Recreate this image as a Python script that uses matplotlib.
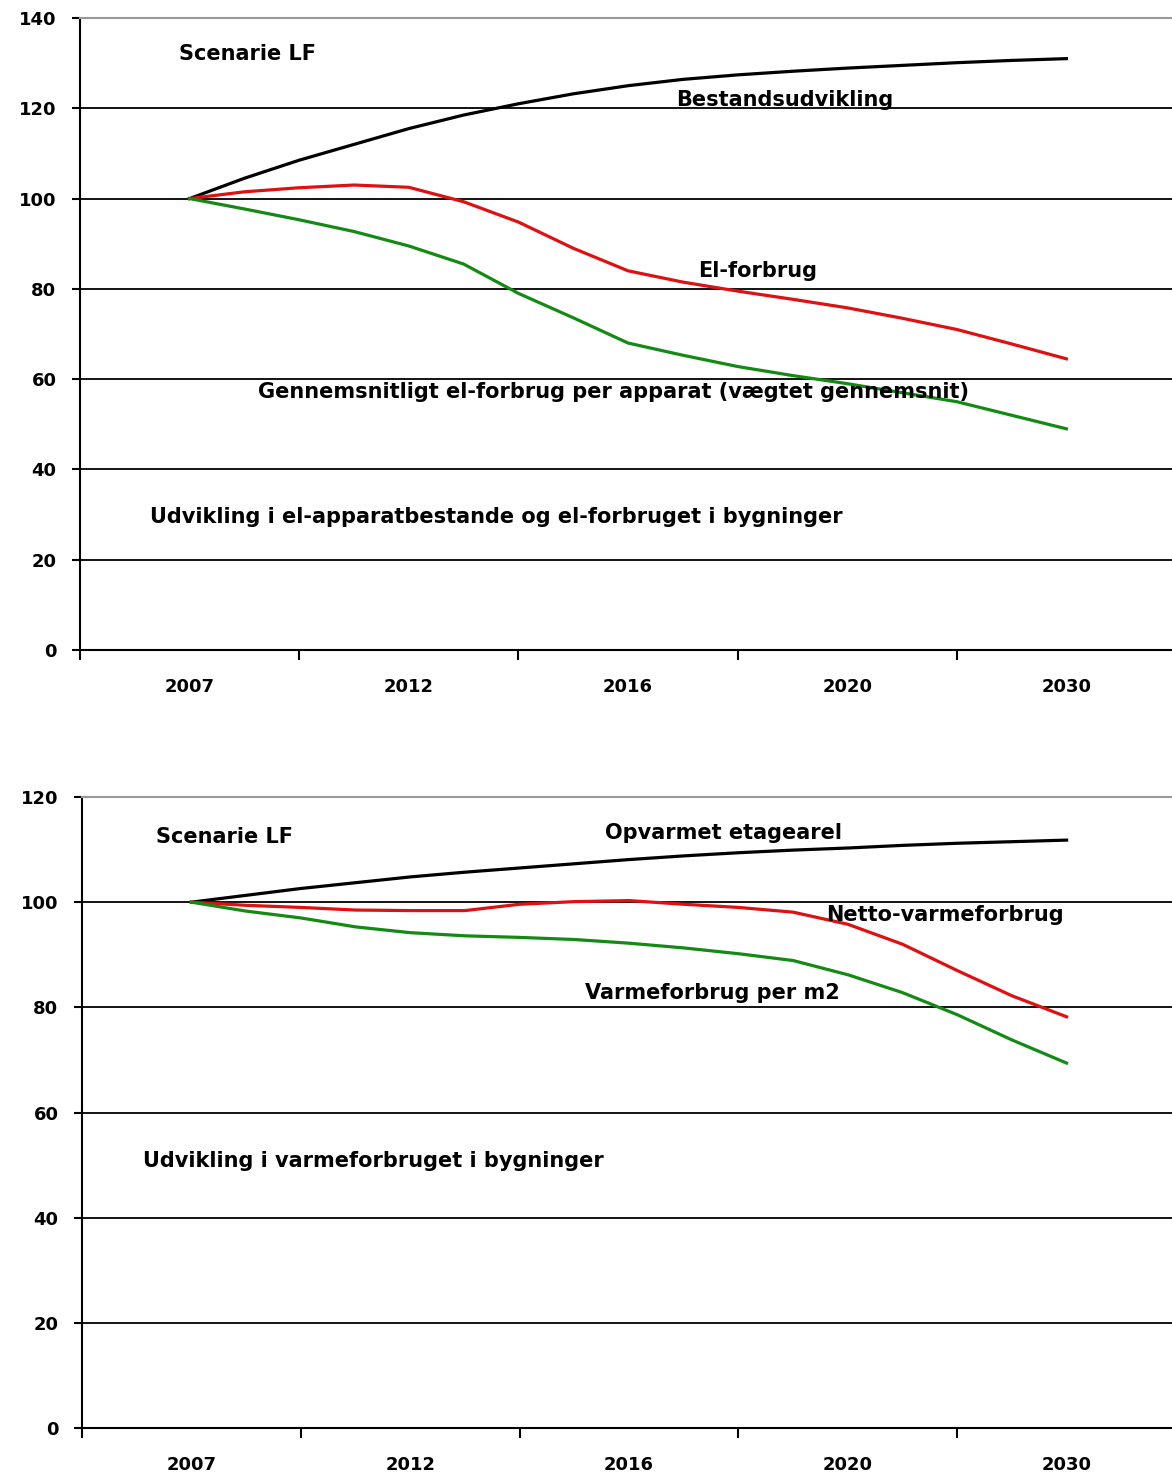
import numpy as np
import matplotlib.pyplot as plt

# x-axis categories (labels sit at category centres 0..4)
year_labels = ['2007', '2012', '2016', '2020', '2030']

# values read at quarter-category steps from 2007 (0) to 2030 (4)
el_bestand = [100, 104.5, 108.5, 112, 115.5, 118.5, 121, 123.2, 125, 126.4,
              127.4, 128.2, 128.9, 129.5, 130.1, 130.6, 131]
el_forbrug = [100, 101.5, 102.4, 103, 102.5, 99.3, 94.8, 89, 84, 81.5,
              79.5, 77.7, 75.8, 73.5, 71, 67.8, 64.5]
el_per_apparat = [100, 97.7, 95.3, 92.7, 89.5, 85.5, 79, 73.6, 68, 65.3,
                  62.8, 60.8, 59, 57, 55, 52, 49]

varme_areal = [100, 101.3, 102.6, 103.7, 104.8, 105.7, 106.5, 107.3, 108.1,
               108.8, 109.4, 109.9, 110.3, 110.8, 111.2, 111.5, 111.8]
varme_netto = [100, 99.4, 99, 98.5, 98.4, 98.4, 99.6, 100.1, 100.3, 99.6,
               99, 98.1, 95.8, 92, 87, 82.2, 78.2]
varme_per_m2 = [100, 98.3, 97, 95.3, 94.2, 93.6, 93.3, 92.9, 92.2, 91.3,
                90.2, 88.9, 86.2, 82.8, 78.6, 73.8, 69.4]

RED = '#e01010'
GREEN = '#138a13'
FONT = 'DejaVu Sans'


def style_axes(ax, ymax):
    ax.set_xlim(-0.5, 4.5)
    ax.set_ylim(0, ymax)
    yt = np.arange(0, ymax + 1, 20)
    ax.set_yticks(yt)
    ax.set_yticklabels([str(v) for v in yt], fontfamily=FONT,
                       fontweight='bold', fontsize=13)
    for v in yt[1:-1]:
        ax.axhline(v, color='black', lw=1.3, zorder=1)
    ax.spines['top'].set_color('#999999')
    ax.spines['top'].set_linewidth(1.5)
    ax.spines['right'].set_visible(False)
    ax.spines['left'].set_linewidth(1.5)
    ax.spines['bottom'].set_linewidth(1.5)
    ax.tick_params(axis='y', length=6, width=1.5, pad=11)
    # labels at centres, tick marks at category boundaries
    ax.set_xticks(range(5))
    ax.set_xticklabels(year_labels, fontfamily=FONT, fontweight='bold',
                       fontsize=13)
    ax.tick_params(axis='x', which='major', length=0, pad=20)
    ax.set_xticks(np.arange(-0.5, 5, 1), minor=True)
    ax.tick_params(axis='x', which='minor', length=7, width=1.5)


def label(ax, x, y, s):
    ax.text(x, y, s, fontfamily=FONT, fontweight='bold', fontsize=15,
            va='center', ha='left', zorder=5)


fig = plt.figure(figsize=(11.72, 14.74), dpi=100)
ax1 = fig.add_axes([80 / 1172, 1 - 650 / 1474, 1096 / 1172, 632 / 1474])
ax2 = fig.add_axes([82 / 1172, 1 - 1428 / 1474, 1094 / 1172, 631 / 1474])

x = np.linspace(0, 4, len(el_bestand))

ax1.plot(x, el_bestand, color='black', lw=2.3, zorder=3)
ax1.plot(x, el_forbrug, color=RED, lw=2.3, zorder=3)
ax1.plot(x, el_per_apparat, color=GREEN, lw=2.3, zorder=3)
style_axes(ax1, 140)
label(ax1, -0.05, 132, 'Scenarie LF')
label(ax1, 2.22, 121.8, 'Bestandsudvikling')
label(ax1, 2.32, 84, 'El-forbrug')
label(ax1, 0.31, 57.2, 'Gennemsnitligt el-forbrug per apparat (vægtet gennemsnit)')
label(ax1, -0.18, 29.5, 'Udvikling i el-apparatbestande og el-forbruget i bygninger')

ax2.plot(x, varme_areal, color='black', lw=2.3, zorder=3)
ax2.plot(x, varme_netto, color=RED, lw=2.3, zorder=3)
ax2.plot(x, varme_per_m2, color=GREEN, lw=2.3, zorder=3)
style_axes(ax2, 120)
label(ax2, -0.16, 112.4, 'Scenarie LF')
label(ax2, 1.89, 113.2, 'Opvarmet etagearel')
label(ax2, 2.9, 97.6, 'Netto-varmeforbrug')
label(ax2, 1.80, 82.7, 'Varmeforbrug per m2')
label(ax2, -0.22, 50.8, 'Udvikling i varmeforbruget i bygninger')

fig.savefig('out.png', dpi=100)
